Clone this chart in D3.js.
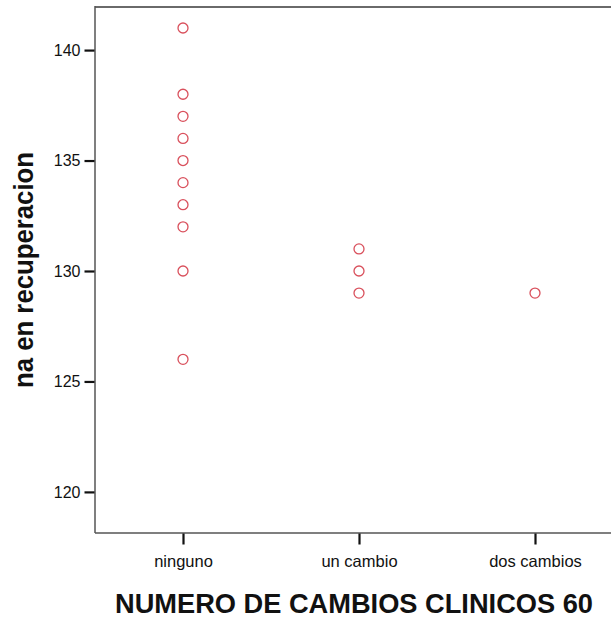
<!DOCTYPE html>
<html>
<head>
<meta charset="utf-8">
<script src="https://cdn.jsdelivr.net/npm/d3@7"></script>
<style>
html,body{margin:0;padding:0;background:#fff;overflow:hidden;}
svg{display:block;}
</style>
</head>
<body>
<svg id="chart" width="611" height="621"></svg>
<script>
const categories = ["ninguno", "un cambio", "dos cambios"];
const ningunoValues = [141, 138, 137, 136, 135, 134, 133, 132, 130, 126];
const unCambioValues = [131, 130, 129];
const dosCambiosValues = [129];
const yTicks = [120, 125, 130, 135, 140];
const xTitle = "NUMERO DE CAMBIOS CLINICOS 60";
const yTitle = "na en recuperacion";

const points = [];
ningunoValues.forEach(v => points.push({c: categories[0], v}));
unCambioValues.forEach(v => points.push({c: categories[1], v}));
dosCambiosValues.forEach(v => points.push({c: categories[2], v}));

const svg = d3.select("#chart");
const mLeft = 95, mRight = 623, mTop = 7, mBottom = 533;

const x = d3.scalePoint().domain(categories).range([mLeft, mRight]).padding(0.5);
const y = d3.scaleLinear().domain([118.14, 141.95]).range([mBottom, mTop]);

// frame
svg.append("line").attr("x1", mLeft).attr("x2", mRight).attr("y1", mTop).attr("y2", mTop)
  .attr("stroke", "#6a6a6a").attr("stroke-width", 2.2);
svg.append("line").attr("x1", mLeft).attr("x2", mRight).attr("y1", mBottom).attr("y2", mBottom)
  .attr("stroke", "#555").attr("stroke-width", 1.5);
svg.append("line").attr("x1", mLeft).attr("x2", mLeft).attr("y1", mTop - 1).attr("y2", mBottom)
  .attr("stroke", "#555").attr("stroke-width", 1.5);

// y axis
const yAxis = d3.axisLeft(y).tickValues(yTicks).tickSize(10).tickPadding(4).tickFormat(d3.format("d"));
const gy = svg.append("g").attr("transform", `translate(${mLeft - 0.5},0)`).call(yAxis);
gy.select(".domain").remove();
gy.selectAll(".tick line").attr("stroke", "#111").attr("stroke-width", 2.2);
gy.selectAll(".tick text").attr("font-family", "Liberation Sans, Arial, sans-serif")
  .attr("font-size", 16).attr("fill", "#111");

// x axis
const xAxis = d3.axisBottom(x).tickSize(11).tickPadding(11);
const gx = svg.append("g").attr("transform", `translate(0,${mBottom + 0.5})`).call(xAxis);
gx.select(".domain").remove();
gx.selectAll(".tick line").attr("stroke", "#111").attr("stroke-width", 2.2);
gx.selectAll(".tick text").attr("font-family", "Liberation Sans, Arial, sans-serif")
  .attr("font-size", 16.5).attr("fill", "#111");

// points
svg.append("g").selectAll("circle").data(points).join("circle")
  .attr("cx", d => x(d.c)).attr("cy", d => y(d.v)).attr("r", 5)
  .attr("fill", "none").attr("stroke", "#d9505c").attr("stroke-width", 1.3);

// titles
svg.append("text").attr("x", 354).attr("y", 613).attr("text-anchor", "middle")
  .attr("font-family", "Liberation Sans, Arial, sans-serif").attr("font-weight", "bold")
  .attr("font-size", 27).attr("textLength", 478).attr("lengthAdjust", "spacingAndGlyphs")
  .attr("fill", "#111").text(xTitle);

svg.append("text").attr("transform", "translate(33,270) rotate(-90)").attr("text-anchor", "middle")
  .attr("font-family", "Liberation Sans, Arial, sans-serif").attr("font-weight", "bold")
  .attr("font-size", 28).attr("textLength", 236).attr("lengthAdjust", "spacingAndGlyphs")
  .attr("fill", "#111").text(yTitle);
</script>
</body>
</html>
